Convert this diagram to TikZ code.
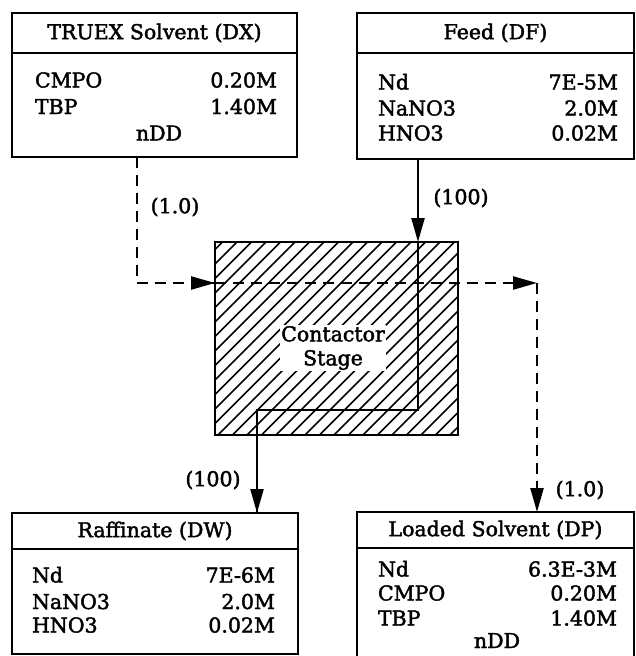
\documentclass[tikz,border=0pt]{standalone}
\usepackage{fontspec}
\setmainfont[FakeBold=2]{DejaVu Serif}
\usetikzlibrary{arrows.meta}
\tikzset{
  every node/.style={font=\fontsize{20.5}{24}\selectfont, outer sep=0pt},
  boxpart/.style={draw, line width=2.9pt, minimum width=#1, inner sep=0pt},
  lab/.style={anchor=base west, inner sep=0pt},
  val/.style={anchor=base east, inner sep=0pt},
  ctr/.style={anchor=base, inner sep=0pt},
  flow/.style={line width=2.3pt},
  dflow/.style={line width=2.3pt, dash pattern=on 11pt off 7pt},
  tip/.style={-{Triangle[length=24pt,width=13pt]}},
  hatch/.style={line width=1.6pt}
}
\begin{document}
\begin{tikzpicture}[x=1pt,y=-1pt]
\useasboundingbox (0,0) rectangle (636,656);

% ---- TRUEX solvent box
\node[boxpart=285pt, minimum height=40pt] (dxh) at (154.5,33) {TRUEX Solvent (DX)};
\node[boxpart=285pt, minimum height=104pt] (dxb) at (154.5,105) {};
\node[lab] (dx1) at (35,87.5) {CMPO};
\node[val] (dx2) at (277,87.5) {0.20M};
\node[lab] (dx3) at (35,114) {TBP};
\node[val] (dx4) at (277,114) {1.40M};
\node[ctr] (dx5) at (159,140.5) {nDD};

% ---- Feed box
\node[boxpart=277pt, minimum height=40pt] (dfh) at (495.5,33) {Feed (DF)};
\node[boxpart=277pt, minimum height=106pt] (dfb) at (495.5,106) {};
\node[lab] (df1) at (378,89.5) {Nd};
\node[val] (df2) at (618,89.5) {7E-5M};
\node[lab] (df3) at (378,115.5) {NaNO3};
\node[val] (df4) at (618,115.5) {2.0M};
\node[lab] (df5) at (378,140.5) {HNO3};
\node[val] (df6) at (618,140.5) {0.02M};

% ---- Raffinate box
\node[boxpart=286pt, minimum height=36pt] (dwh) at (155,531) {Raffinate (DW)};
\node[boxpart=286pt, minimum height=105pt] (dwb) at (155,601.5) {};
\node[lab] (dw1) at (32,582.5) {Nd};
\node[val] (dw2) at (275,582.5) {7E-6M};
\node[lab] (dw3) at (32,609) {NaNO3};
\node[val] (dw4) at (275,609) {2.0M};
\node[lab] (dw5) at (32,632.5) {HNO3};
\node[val] (dw6) at (275,632.5) {0.02M};

% ---- Loaded solvent box
\node[boxpart=277pt, minimum height=36pt] (dph) at (495.5,530) {Loaded Solvent (DP)};
\node[boxpart=277pt, minimum height=118pt] (dpb) at (495.5,607) {};
\node[lab] (dp1) at (378,576.5) {Nd};
\node[val] (dp2) at (617,576.5) {6.3E-3M};
\node[lab] (dp3) at (378,600.5) {CMPO};
\node[val] (dp4) at (617,600.5) {0.20M};
\node[lab] (dp5) at (378,625.5) {TBP};
\node[val] (dp6) at (617,625.5) {1.40M};
\node[ctr] (dp7) at (497,648) {nDD};

% ---- Contactor stage (hatched)
\begin{scope}
  \clip (215,242) rectangle (458,435);
  \foreach \i in {0,...,32} {
    \draw[hatch] ({15+14.5*\i},435) -- ++(220,-220);
  }
\end{scope}
\node[draw, line width=2.9pt, minimum width=243pt, minimum height=193pt, inner sep=0pt] (cs) at (336.5,338.5) {};
\node[fill=white, inner sep=1pt, align=center, font=\fontsize{20.5}{24}\selectfont] (cst) at (333,348) {Contactor\\Stage};

% ---- connection points
\coordinate (j1) at (137,283);
\coordinate (j2) at (537,283);
\coordinate (f1) at (418,410);
\coordinate (f2) at (257,410);

% solvent: dashed
\draw[dflow] (dxb.south -| j1) -- (j1) -- (cs.west |- j1);
\draw[tip, line width=2.3pt] ([xshift=-24pt]cs.west |- j1) -- (cs.west |- j1);
\draw[dflow] (cs.west |- j1) -- (j2);
\draw[tip, line width=2.3pt] ([xshift=-24pt]j2) -- (j2);
\draw[dflow, tip] (j2) -- (dph.north -| j2);

% feed: solid
\draw[flow, tip] (dfb.south -| f1) -- (cs.north -| f1);
\draw[flow] (cs.north -| f1) -- (f1) -- (f2) -- (dwh.north -| f2);
\draw[flow, tip] ([yshift=30pt]dwh.north -| f2) -- (dwh.north -| f2);

% flow labels
\node (l1) at (175,207) {(1.0)};
\node (l2) at (461,198) {(100)};
\node (l3) at (213,480) {(100)};
\node (l4) at (580,490) {(1.0)};
\end{tikzpicture}
\end{document}
